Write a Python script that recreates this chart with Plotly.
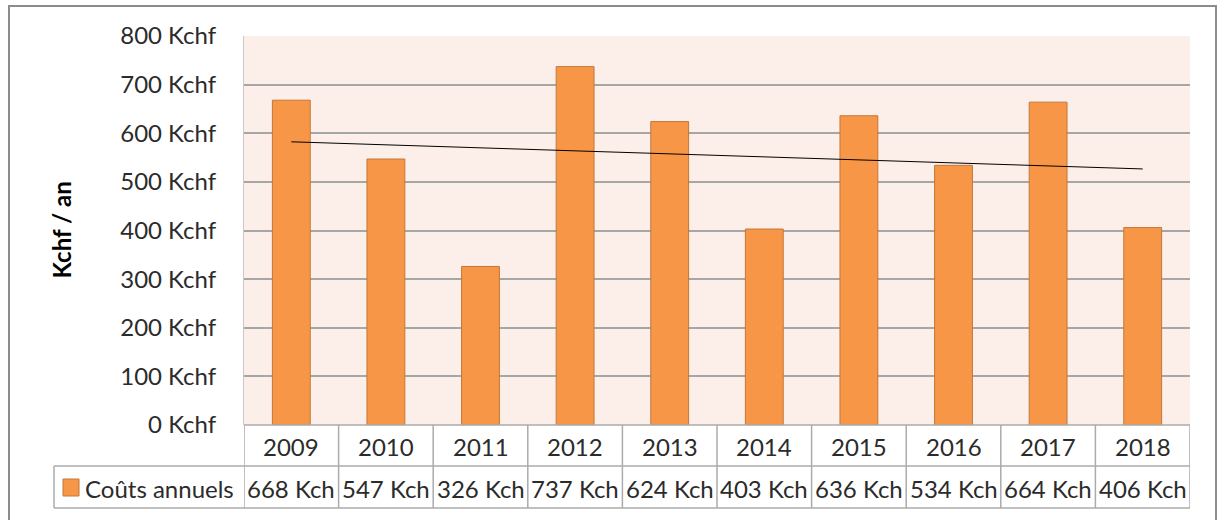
import numpy as np
import plotly.graph_objects as go

years = ["2009", "2010", "2011", "2012", "2013", "2014", "2015", "2016", "2017", "2018"]
costs = [668, 547, 326, 737, 624, 403, 636, 534, 664, 406]
value_labels = ["668 Kch", "547 Kch", "326 Kch", "737 Kch", "624 Kch",
                "403 Kch", "636 Kch", "534 Kch", "664 Kch", "406 Kch"]
series_name = "Coûts annuels"
y_ticks = [0, 100, 200, 300, 400, 500, 600, 700, 800]
y_tick_text = [f"{v} Kchf" for v in y_ticks]
y_title = "Kchf / an"

FONT = "Lato"
FS = 24
TXT = "#2B2B2B"
BAR = "#F79646"
BAR_EDGE = "#C2773A"
GRID = "#A6A6A6"
TABLE = "#ABABAB"

# pixel geometry
W, H = 1219, 520
L, R, T, B = 244, 1190, 36, 425
pw, ph = R - L, B - T

def px_x(px):
    return (px - L) / pw

def px_y(py):
    return (B - py) / ph

n = len(years)
xi = np.arange(n)
slope, intercept = np.polyfit(xi, np.array(costs, dtype=float), 1)
trend = slope * xi + intercept

fig = go.Figure()
fig.add_trace(go.Bar(
    x=xi, y=costs, width=0.4, name=series_name,
    marker=dict(color=BAR, line=dict(color=BAR_EDGE, width=1)),
    showlegend=False, hoverinfo="x+y",
))
fig.add_trace(go.Scatter(
    x=[xi[0], xi[-1]], y=[trend[0], trend[-1]], mode="lines",
    line=dict(color="#000000", width=1), showlegend=False,
))

shapes = []
# outer chart border
shapes.append(dict(type="rect", xref="paper", yref="paper",
                   x0=px_x(9), x1=px_x(1216), y0=px_y(530), y1=px_y(6),
                   line=dict(color="#8C8C8C", width=2), fillcolor="rgba(0,0,0,0)", layer="below"))

y_row1, y_row2, y_row3 = px_y(425), px_y(466), px_y(508)
# horizontal table lines
shapes.append(dict(type="line", xref="x", yref="paper", x0=-0.5, x1=n - 0.5,
                   y0=y_row1, y1=y_row1, line=dict(color=TABLE, width=1.5)))
for yy in (y_row2, y_row3):
    shapes.append(dict(type="line", xref="paper", yref="paper", x0=px_x(54), x1=1,
                       y0=yy, y1=yy, line=dict(color=TABLE, width=1.5)))
# vertical table lines at category boundaries
for k in range(n + 1):
    shapes.append(dict(type="line", xref="x", yref="paper", x0=k - 0.5, x1=k - 0.5,
                       y0=y_row3, y1=y_row1, line=dict(color=TABLE, width=1.5)))
# legend cell left border
shapes.append(dict(type="line", xref="paper", yref="paper", x0=px_x(54), x1=px_x(54),
                   y0=y_row3, y1=y_row2, line=dict(color=TABLE, width=1.5)))
# legend key square
shapes.append(dict(type="rect", xref="paper", yref="paper",
                   x0=px_x(63), x1=px_x(79), y0=px_y(496), y1=px_y(479),
                   fillcolor=BAR, line=dict(color=BAR_EDGE, width=1)))

annotations = []
for k in range(n):
    annotations.append(dict(x=k, y=px_y(446), xref="x", yref="paper", text=years[k],
                            showarrow=False, font=dict(family=FONT, size=FS, color=TXT),
                            xanchor="center", yanchor="middle"))
    annotations.append(dict(x=k, y=px_y(488), xref="x", yref="paper", text=value_labels[k],
                            showarrow=False, font=dict(family=FONT, size=FS, color=TXT),
                            xanchor="center", yanchor="middle"))
annotations.append(dict(x=px_x(83), y=px_y(488), xref="paper", yref="paper", text=series_name,
                        showarrow=False, font=dict(family=FONT, size=FS, color=TXT),
                        xanchor="left", yanchor="middle"))
annotations.append(dict(x=px_x(61), y=0.5, xref="paper", yref="paper", text="<b>" + y_title + "</b>",
                        showarrow=False, textangle=-90, font=dict(family=FONT, size=FS, color="#000000"),
                        xanchor="center", yanchor="middle"))

fig.update_layout(
    width=W, height=H,
    margin=dict(l=L, r=W - R, t=T, b=H - B, pad=0),
    paper_bgcolor="#FFFFFF", plot_bgcolor="#FCEEE9",
    font=dict(family=FONT, size=FS, color=TXT),
    shapes=shapes, annotations=annotations, bargap=0.6,
    xaxis=dict(range=[-0.5, n - 0.5], showticklabels=False, showgrid=False,
               zeroline=False, showline=False, ticks=""),
    yaxis=dict(range=[0, 800], tickvals=y_ticks, ticktext=y_tick_text,
               showgrid=True, gridcolor=GRID, gridwidth=1.5, zeroline=False,
               showline=True, linecolor="#C8C8C8", linewidth=1,
               ticks="outside", ticklen=0, ticklabelstandoff=22,
               tickfont=dict(family=FONT, size=FS, color=TXT)),
)

fig.write_html("out.html",
               config={"displayModeBar": False},
               post_script="document.body.style.margin='0';document.body.style.overflow='hidden';")
